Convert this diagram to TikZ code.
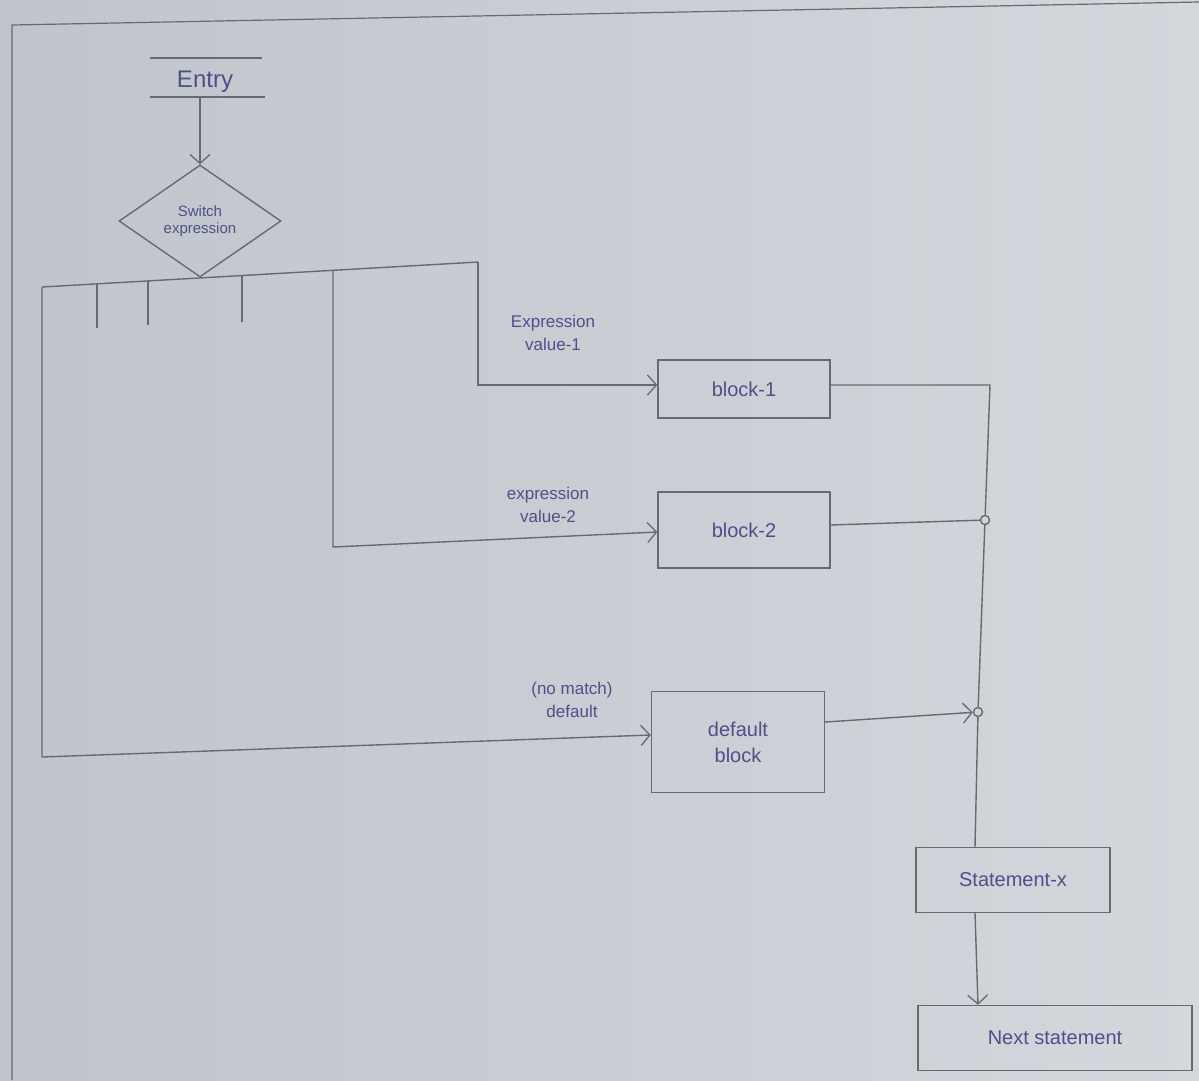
\documentclass[tikz,border=0pt]{standalone}
\usepackage{fontspec}
\setmainfont{Liberation Sans}
\usetikzlibrary{shapes.geometric,arrows.meta,calc}
\definecolor{paperL}{RGB}{192,196,204}
\definecolor{paperR}{RGB}{212,215,220}
\definecolor{pencil}{RGB}{105,106,112}
\definecolor{ink}{RGB}{78,80,138}
\tikzset{
  pen/.style={draw=pencil,line width=1.4pt},
  arr/.style={pen,-{Straight Barb[length=9pt,width=20pt,line width=1.3pt]}},
  box/.style={pen,rectangle,inner sep=0pt,text=ink,align=center,font=\fontsize{20}{26}\selectfont},
  lbl/.style={text=ink,align=center,font=\fontsize{17}{23}\selectfont,inner sep=0pt},
  junc/.style={circle,pen,minimum size=9pt,inner sep=0pt}
}
\begin{document}
\begin{tikzpicture}[x=1pt,y=-1pt]
\shade[left color=paperL,right color=paperR] (0,0) rectangle (1199,1080);
\useasboundingbox (0,0) rectangle (1199,1080);
% page border
\draw[pencil,line width=1.2pt] (12,1080) -- (12,25) -- (1199,2);
% entry
\node[lbl,font=\fontsize{24}{28}\selectfont] (entry) at (205,82) {Entry};
\draw[pen] (150,58) -- (262,58);
\coordinate (entrybot) at (200,97);
\draw[pen] (150,97) -- (265,97);
% switch diamond
\node[diamond,pen,minimum width=162pt,minimum height=112pt,inner sep=0pt,text=ink,align=center,font=\fontsize{15}{17}\selectfont] (sw) at (200,221) {Switch\\expression};
\draw[arr] (entrybot) -- (sw.north);
% bus
\coordinate (busL) at (42,287);
\coordinate (busR) at (478,262);
\draw[pen] (busL) -- (busR);
\draw[pen] (97,284) -- (97,328);
\draw[pen] (148,281) -- (148,325);
\draw[pen] (242,276) -- (242,322);
\coordinate (t2) at (333,270);
% blocks
\node[box,minimum width=172pt,minimum height=58pt] (b1) at (744,389) {block-1};
\node[box,minimum width=172pt,minimum height=76pt] (b2) at (744,530) {block-2};
\node[box,minimum width=173pt,minimum height=101pt] (bd) at (738,742) {default\\block};
\node[box,minimum width=194pt,minimum height=65pt] (sx) at (1013,880) {Statement-x};
\node[box,minimum width=274pt,minimum height=65pt] (ns) at (1055,1038) {Next statement};
% labels
\node[lbl] (l1) at (553,333) {Expression\\value-1};
\node[lbl] (l2) at (548,505) {expression\\value-2};
\node[lbl] (l3) at (572,700) {(no match)\\default};
% branch connectors
\draw[arr] (busR) -- (478,385) -- ($(b1.west)+(0,-4)$);
\draw[arr] (t2) -- (333,547) -- ($(b2.west)+(0,2)$);
\draw[arr] (busL) -- (42,757) -- ($(bd.west)+(0,-7)$);
% join line
\coordinate (j0) at (990,385);
\node[junc] (j1) at (985,520) {};
\node[junc] (j2) at (978,712) {};
\draw[pen] ($(b1.east)+(0,-4)$) -- (j0) -- (j1) -- (j2) -- ($(sx.north)+(-38,0)$);
\draw[pen] ($(b2.east)+(0,-5)$) -- (j1);
\draw[arr] ($(bd.east)+(0,-20)$) -- (j2);
\draw[arr] ($(sx.south)+(-38,0)$) -- ($(ns.north)+(-77,0)$);
\end{tikzpicture}
\end{document}
